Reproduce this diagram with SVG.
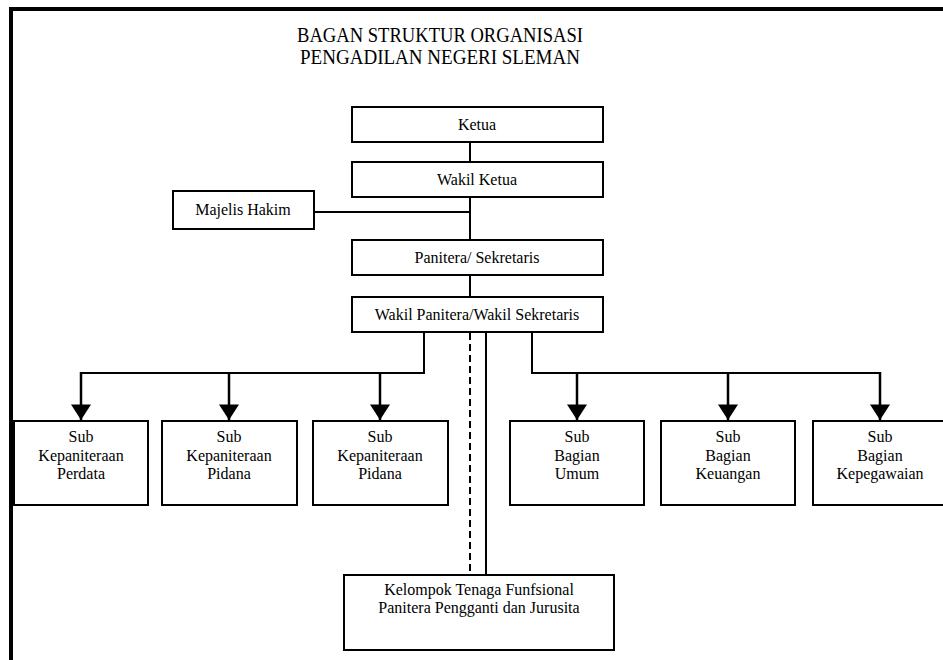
<svg xmlns="http://www.w3.org/2000/svg" width="943" height="660" viewBox="0 0 943 660">
<style>
  .box { fill: #ffffff; stroke: #000000; stroke-width: 2; }
  .t { font-family: 'Liberation Serif', 'Times New Roman', serif; font-size: 16px; fill: #000000; text-anchor: middle; }
  .title { font-family: 'Liberation Serif', 'Times New Roman', serif; font-size: 20px; fill: #000000; text-anchor: middle; }
  .ln { fill: none; stroke: #000000; stroke-width: 2; }
  .arr { fill: none; stroke: #000000; stroke-width: 2.5; marker-end: url(#ah); }
  .dash { fill: none; stroke: #000000; stroke-width: 2; stroke-dasharray: 7 4; }
</style>
<defs>
  <marker id="ah" markerUnits="userSpaceOnUse" markerWidth="16" markerHeight="20" refX="14" refY="9" orient="auto" viewBox="0 0 14 18">
    <path d="M0,0 L14,9 L0,18 Z" fill="#000000"/>
  </marker>
</defs>
<rect x="0" y="0" width="943" height="660" fill="#ffffff"/>
<path d="M11,664 L11,9 L950,9" fill="none" stroke="#000000" stroke-width="4"/>

<g id="title">
  <text class="title" x="440" y="42" textLength="286" lengthAdjust="spacingAndGlyphs">BAGAN STRUKTUR ORGANISASI</text>
  <text class="title" x="440" y="64" textLength="280" lengthAdjust="spacingAndGlyphs">PENGADILAN NEGERI SLEMAN</text>
</g>

<g id="connectors">
  <line class="ln" x1="470" y1="142" x2="470" y2="162"/>
  <line class="ln" x1="470" y1="197" x2="470" y2="240"/>
  <line class="ln" x1="314" y1="212" x2="470" y2="212"/>
  <line class="ln" x1="470" y1="275" x2="470" y2="297"/>
  <path class="ln" d="M424,332 L424,373 L80,373"/>
  <path class="ln" d="M532,332 L532,373 L881,373"/>
  <line class="arr" x1="81" y1="372" x2="81" y2="420"/>
  <line class="arr" x1="229" y1="373" x2="229" y2="420"/>
  <line class="arr" x1="380" y1="373" x2="380" y2="420"/>
  <line class="arr" x1="577" y1="373" x2="577" y2="420"/>
  <line class="arr" x1="728" y1="373" x2="728" y2="420"/>
  <line class="arr" x1="880" y1="372" x2="880" y2="420"/>
  <line class="dash" x1="470" y1="333" x2="470" y2="575"/>
  <line class="ln" x1="486" y1="332" x2="486" y2="575"/>
</g>

<g id="ketua">
  <rect class="box" x="352" y="107" width="251" height="35"/>
  <text class="t" x="477" y="130">Ketua</text>
</g>
<g id="wakil-ketua">
  <rect class="box" x="352" y="162" width="251" height="35"/>
  <text class="t" x="477" y="185">Wakil Ketua</text>
</g>
<g id="majelis-hakim">
  <rect class="box" x="173" y="191" width="141" height="38"/>
  <text class="t" x="243" y="215">Majelis Hakim</text>
</g>
<g id="panitera">
  <rect class="box" x="352" y="240" width="251" height="35"/>
  <text class="t" x="477" y="263">Panitera/ Sekretaris</text>
</g>
<g id="wakil-panitera">
  <rect class="box" x="352" y="297" width="251" height="35"/>
  <text class="t" x="477" y="320">Wakil Panitera/Wakil Sekretaris</text>
</g>

<g id="sub-perdata">
  <rect class="box" x="14" y="421" width="134" height="84"/>
  <text class="t" x="81" y="442">Sub</text>
  <text class="t" x="81" y="461">Kepaniteraan</text>
  <text class="t" x="81" y="479">Perdata</text>
</g>
<g id="sub-pidana-1">
  <rect class="box" x="162" y="421" width="135" height="84"/>
  <text class="t" x="229" y="442">Sub</text>
  <text class="t" x="229" y="461">Kepaniteraan</text>
  <text class="t" x="229" y="479">Pidana</text>
</g>
<g id="sub-pidana-2">
  <rect class="box" x="313" y="421" width="135" height="84"/>
  <text class="t" x="380" y="442">Sub</text>
  <text class="t" x="380" y="461">Kepaniteraan</text>
  <text class="t" x="380" y="479">Pidana</text>
</g>
<g id="sub-umum">
  <rect class="box" x="510" y="421" width="134" height="84"/>
  <text class="t" x="577" y="442">Sub</text>
  <text class="t" x="577" y="461">Bagian</text>
  <text class="t" x="577" y="479">Umum</text>
</g>
<g id="sub-keuangan">
  <rect class="box" x="661" y="421" width="134" height="84"/>
  <text class="t" x="728" y="442">Sub</text>
  <text class="t" x="728" y="461">Bagian</text>
  <text class="t" x="728" y="479">Keuangan</text>
</g>
<g id="sub-kepegawaian">
  <rect class="box" x="813" y="421" width="134" height="84"/>
  <text class="t" x="880" y="442">Sub</text>
  <text class="t" x="880" y="461">Bagian</text>
  <text class="t" x="880" y="479">Kepegawaian</text>
</g>

<g id="kelompok">
  <rect class="box" x="344" y="575" width="270" height="75"/>
  <text class="t" x="479" y="595">Kelompok Tenaga Funfsional</text>
  <text class="t" x="479" y="613">Panitera Pengganti dan Jurusita</text>
</g>
</svg>
